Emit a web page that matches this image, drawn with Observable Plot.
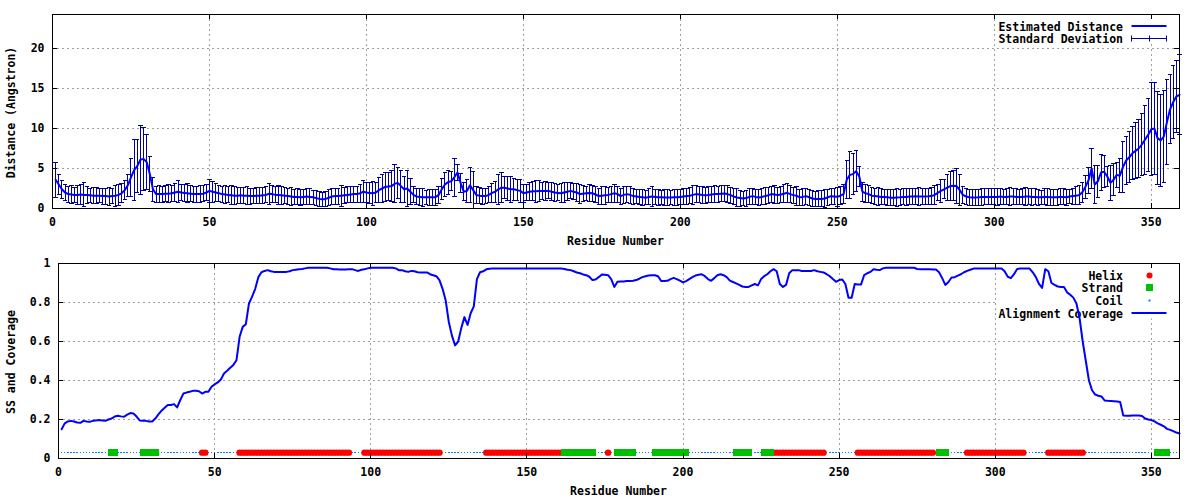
<!DOCTYPE html>
<html>
<head>
<meta charset="utf-8">
<script src="https://cdn.jsdelivr.net/npm/d3@7"></script>
<script src="https://cdn.jsdelivr.net/npm/@observablehq/plot@0.6"></script>
<style>
  html, body { margin: 0; padding: 0; background: #ffffff; }
  #chart svg { display: block; }
</style>
</head>
<body>
<div id="chart"></div>
<script>
// ---------------- DATA ----------------
const firstResidue = 1;

// Estimated distance (Angstrom) per residue
const distanceMean = [
3.6,3.0,2.4,2.0,1.8,1.75,1.7,1.7,1.75,1.7,
1.7,1.65,1.6,1.6,1.6,1.55,1.55,1.5,1.55,1.6,
1.7,1.9,2.3,2.9,3.9,4.8,5.3,6.1,6.2,5.8,
4.3,2.4,1.8,1.8,1.8,1.85,1.85,1.9,2.0,2.1,
2.0,1.95,1.9,1.85,1.8,1.8,1.8,1.85,2.0,2.2,
2.1,2.0,1.9,1.8,1.75,1.7,1.65,1.6,1.6,1.65,
1.6,1.6,1.55,1.55,1.6,1.6,1.65,1.7,1.85,1.8,
1.7,1.7,1.65,1.6,1.55,1.5,1.45,1.45,1.4,1.45,
1.5,1.45,1.4,1.3,1.2,1.15,1.2,1.35,1.5,1.55,
1.55,1.6,1.65,1.7,1.75,1.8,1.8,1.9,2.1,2.0,
1.95,1.9,2.0,2.3,2.5,2.7,2.75,2.8,3.1,3.2,
2.8,2.4,2.5,2.1,1.7,1.5,1.45,1.4,1.4,1.4,
1.4,1.4,1.7,2.4,3.0,3.3,3.4,3.9,4.5,3.2,
2.1,2.2,2.9,2.3,1.7,1.6,1.55,1.55,1.7,1.95,
2.1,2.4,2.6,2.6,2.5,2.4,2.4,2.3,2.2,1.9,
2.0,2.1,2.15,2.15,2.2,2.2,2.2,2.2,2.1,2.0,
1.95,1.9,2.0,2.1,2.2,2.1,2.0,1.8,1.85,1.9,
1.95,1.9,1.75,1.55,1.6,1.65,1.7,1.8,1.9,1.8,
1.55,1.7,1.8,1.7,1.55,1.5,1.45,1.4,1.35,1.45,
1.5,1.45,1.4,1.4,1.38,1.38,1.38,1.4,1.4,1.45,
1.5,1.55,1.6,1.7,1.8,1.75,1.7,1.67,1.7,1.75,
1.8,1.8,1.85,1.88,1.8,1.67,1.5,1.38,1.3,1.25,
1.3,1.45,1.55,1.45,1.38,1.45,1.55,1.65,1.8,1.75,
1.67,1.75,1.85,1.96,1.8,1.67,1.6,1.4,1.45,1.55,
1.4,1.25,1.2,1.2,1.2,1.25,1.4,1.54,1.5,1.46,
1.6,1.8,3.6,4.2,4.3,4.67,4.0,2.1,1.9,1.8,
1.6,1.55,1.5,1.45,1.45,1.4,1.35,1.35,1.38,1.4,
1.45,1.45,1.5,1.5,1.54,1.5,1.5,1.5,1.52,1.55,
1.7,1.96,2.2,2.4,2.6,2.8,2.85,2.8,2.3,1.7,
1.5,1.4,1.38,1.38,1.4,1.45,1.45,1.45,1.45,1.45,
1.45,1.5,1.45,1.45,1.5,1.5,1.45,1.45,1.45,1.5,
1.5,1.45,1.45,1.4,1.4,1.45,1.45,1.4,1.4,1.4,
1.45,1.45,1.4,1.5,1.55,1.6,1.67,2.0,2.7,3.5,
5.0,3.0,3.4,4.5,4.6,4.0,3.2,3.6,4.2,4.1,
5.2,6.0,6.4,6.9,7.2,7.5,8.0,8.6,9.2,9.9,
10.0,8.8,8.5,9.0,10.8,12.4,13.3,14.0,14.2
];

// Standard deviation per residue
const distanceSD = [
2.2,1.2,1.1,1.0,1.0,1.1,0.9,1.2,1.3,1.5,
1.1,0.9,1.0,1.0,0.9,1.0,1.0,1.1,0.9,1.3,
1.3,1.2,1.2,1.4,2.35,3.8,3.3,4.3,3.9,3.45,
2.2,1.5,1.0,1.1,1.0,1.0,1.1,1.0,1.1,1.4,
1.0,1.1,1.2,1.0,1.0,1.0,1.1,1.0,1.0,1.4,
1.3,1.1,1.0,1.0,1.1,1.0,1.2,1.1,1.0,1.0,
1.0,1.1,1.0,0.9,1.0,1.0,1.0,1.0,1.3,1.1,
1.0,1.2,1.1,1.0,1.0,1.1,0.9,1.0,1.0,0.9,
1.0,1.0,0.9,0.9,0.9,0.9,0.9,1.0,1.0,1.0,
1.0,1.3,1.0,1.0,1.0,1.0,1.0,1.1,1.4,1.2,
1.3,1.5,1.2,1.6,1.7,1.8,1.8,1.9,2.4,1.9,
2.0,1.6,2.2,1.6,1.0,1.0,1.1,1.1,0.9,1.0,
1.0,1.0,1.1,1.3,1.5,1.5,1.2,2.35,1.0,1.2,
1.1,1.4,2.2,2.3,1.1,1.0,1.0,0.9,1.0,1.2,
1.3,1.9,1.9,1.4,1.5,1.6,1.4,1.3,1.4,1.1,
1.0,1.1,1.2,1.4,1.3,1.1,1.2,1.0,1.1,1.1,
1.0,1.2,1.3,1.1,1.0,1.0,1.1,1.2,1.0,0.9,
1.1,1.0,1.0,1.0,1.1,1.1,0.9,1.0,1.1,1.0,
1.0,1.1,1.0,1.1,1.0,0.9,0.9,1.0,0.9,1.0,
1.2,0.9,1.0,0.9,1.0,1.0,0.9,1.0,1.0,0.9,
1.0,1.0,1.0,1.2,1.1,1.0,1.1,1.0,1.0,1.0,
1.1,1.0,1.0,1.0,1.1,1.0,1.0,1.1,1.0,0.9,
1.0,1.0,1.0,0.9,1.0,1.0,1.1,1.0,1.0,1.1,
1.0,1.0,1.1,1.2,1.1,1.0,1.2,1.0,1.1,1.0,
1.0,1.0,0.9,1.0,1.0,1.1,1.0,1.0,1.0,1.2,
1.1,1.2,2.4,2.9,2.6,2.55,1.3,1.2,1.1,1.1,
1.0,1.0,1.1,1.0,0.9,1.0,1.0,1.0,1.1,1.0,
1.0,1.1,1.0,1.0,1.0,1.1,1.0,1.0,1.0,1.1,
1.2,1.0,1.4,1.2,1.6,1.8,1.9,2.2,1.9,1.1,
1.0,1.0,1.0,1.0,1.0,1.1,1.0,1.0,1.0,1.0,
1.1,1.0,0.9,1.0,1.1,1.0,1.0,0.9,1.0,1.1,
1.0,1.1,1.0,1.0,0.9,1.0,1.1,1.0,1.0,1.0,
1.0,1.0,1.0,0.9,1.0,1.1,1.2,1.2,1.4,1.6,
2.5,2.4,2.0,2.3,2.0,1.3,2.2,2.0,1.6,2.1,
3.2,3.0,3.2,3.3,3.5,3.6,3.9,4.3,4.6,5.8,
5.8,5.8,5.7,5.8,5.3,4.3,4.6,4.5,5.0
];

// Alignment coverage per residue
const coverage = [
0.15,0.18,0.19,0.193,0.19,0.185,0.183,0.193,0.19,0.188,
0.193,0.195,0.197,0.195,0.193,0.2,0.205,0.215,0.219,0.216,
0.214,0.225,0.233,0.231,0.215,0.195,0.193,0.193,0.19,0.19,
0.205,0.226,0.245,0.26,0.274,0.274,0.279,0.262,0.3,0.333,
0.338,0.342,0.347,0.347,0.345,0.333,0.342,0.342,0.368,0.38,
0.39,0.405,0.436,0.45,0.465,0.48,0.504,0.624,0.675,0.689,
0.795,0.83,0.87,0.93,0.955,0.962,0.966,0.96,0.957,0.957,
0.957,0.957,0.957,0.96,0.966,0.968,0.97,0.972,0.975,0.978,
0.978,0.978,0.978,0.978,0.978,0.978,0.975,0.971,0.97,0.969,
0.969,0.969,0.97,0.971,0.966,0.962,0.968,0.97,0.975,0.978,
0.978,0.978,0.978,0.978,0.978,0.978,0.978,0.975,0.966,0.966,
0.96,0.957,0.962,0.96,0.955,0.954,0.954,0.954,0.945,0.94,
0.935,0.915,0.87,0.81,0.7,0.63,0.58,0.6,0.67,0.725,
0.685,0.745,0.78,0.92,0.955,0.96,0.97,0.973,0.974,0.974,
0.974,0.974,0.974,0.974,0.974,0.974,0.974,0.974,0.974,0.974,
0.974,0.974,0.974,0.974,0.974,0.974,0.974,0.974,0.974,0.974,
0.974,0.972,0.968,0.966,0.96,0.954,0.95,0.944,0.94,0.932,
0.915,0.918,0.93,0.944,0.942,0.94,0.92,0.88,0.906,0.908,
0.908,0.91,0.91,0.912,0.915,0.922,0.93,0.935,0.938,0.94,
0.94,0.935,0.91,0.91,0.911,0.92,0.926,0.92,0.912,0.903,
0.91,0.92,0.93,0.938,0.942,0.945,0.935,0.92,0.911,0.925,
0.94,0.945,0.94,0.93,0.912,0.905,0.898,0.89,0.882,0.88,
0.88,0.888,0.895,0.888,0.92,0.935,0.945,0.96,0.971,0.96,
0.895,0.88,0.89,0.95,0.966,0.966,0.966,0.962,0.962,0.962,
0.962,0.966,0.96,0.957,0.954,0.945,0.935,0.92,0.906,0.915,
0.918,0.895,0.824,0.824,0.895,0.892,0.892,0.94,0.95,0.957,
0.971,0.968,0.966,0.975,0.978,0.978,0.978,0.978,0.978,0.978,
0.978,0.978,0.978,0.978,0.972,0.971,0.971,0.97,0.97,0.969,
0.969,0.955,0.925,0.89,0.905,0.928,0.93,0.938,0.945,0.955,
0.962,0.968,0.974,0.974,0.974,0.974,0.974,0.974,0.974,0.974,
0.974,0.974,0.96,0.932,0.925,0.945,0.972,0.974,0.974,0.974,
0.974,0.955,0.93,0.895,0.875,0.971,0.96,0.9,0.89,0.882,
0.88,0.88,0.852,0.84,0.825,0.795,0.72,0.6,0.5,0.4,
0.35,0.328,0.322,0.318,0.298,0.296,0.295,0.294,0.292,0.29,
0.22,0.219,0.219,0.22,0.221,0.22,0.218,0.205,0.2,0.197,
0.19,0.18,0.173,0.165,0.152,0.147,0.14,0.133,0.128
];

// Secondary structure segments (first residue, last residue)
const helixSegments  = [[46,47],[58,93],[98,122],[137,161],[176,176],[229,245],[256,280],[291,309],[317,328]];
const strandSegments = [[17,18],[27,31],[162,171],[179,184],[191,201],[217,221],[226,228],[282,284],[352,355]];
const ssLevel = 0.03;

// Axis ticks and labels
const xTicks = [0, 50, 100, 150, 200, 250, 300, 350];
const xDomain = [0, 359];
const distTicks = [0, 5, 10, 15, 20];
const distDomain = [0, 24.25];
const covTicks = [0, 0.2, 0.4, 0.6, 0.8, 1];
const covDomain = [0, 1];

const topKey = [
  {label: "Estimated Distance", kind: "line", color: "#0000ff"},
  {label: "Standard Deviation", kind: "errorbar", color: "#0000a0"}
];
const bottomKey = [
  {label: "Helix", kind: "circle", color: "#ff0000"},
  {label: "Strand", kind: "square", color: "#00c000"},
  {label: "Coil", kind: "dot", color: "#0080ff"},
  {label: "Alignment Coverage", kind: "line", color: "#0000ff"}
];

// ---------------- BUILD ----------------
const FONT = "'DejaVu Sans Mono', 'Liberation Mono', monospace";
const GRID = "#a0a0a0";
const DASH = "2,3";
const TICK = 5;
const BAR = "#0000a0";

const distRows = distanceMean.map((m, i) => ({r: i + firstResidue, mean: m, lo: m - distanceSD[i], hi: m + distanceSD[i]}));
const covRows = coverage.map((c, i) => ({r: i + firstResidue, c}));
const inSeg = (segs, r) => segs.some(([a, b]) => r >= a && r <= b);
const ssRows = coverage.map((c, i) => {
  const r = i + firstResidue;
  return {r, ss: inSeg(helixSegments, r) ? "H" : inSeg(strandSegments, r) ? "E" : "C"};
});

const capSymbol = {draw(ctx, size) { const w = Math.sqrt(size / Math.PI); ctx.moveTo(-w, 0); ctx.lineTo(w, 0); }};

function frameBox(dim) {
  return {L: dim.marginLeft, R: dim.width - dim.marginRight, T: dim.marginTop, B: dim.height - dim.marginBottom};
}

function keyMark(items) {
  return (index, scales, values, dim) => {
    const {R, T} = frameBox(dim);
    const g = d3.create("svg:g");
    g.append("rect").attr("x", R - 183).attr("y", T + 0.5).attr("width", 182.5).attr("height", items.length * 13 + 3).attr("fill", "white");
    const x1 = Math.round(R - 48.5) + 0.5, x2 = Math.round(R - 13.5) + 0.5, xc = Math.round((x1 + x2) / 2) + 0.5;
    items.forEach((it, i) => {
      const y = Math.round(T + 11.5 + i * 12.9) + 0.5;
      g.append("text").attr("x", R - 56).attr("y", y).attr("dy", "0.35em").attr("text-anchor", "end").attr("fill", "black").text(it.label);
      if (it.kind === "line") {
        g.append("line").attr("x1", x1).attr("x2", x2).attr("y1", y - 0.5).attr("y2", y - 0.5).attr("stroke", it.color).attr("stroke-width", 2);
      } else if (it.kind === "errorbar") {
        g.append("line").attr("x1", x1).attr("x2", x2).attr("y1", y).attr("y2", y).attr("stroke", it.color).attr("stroke-width", 1);
        for (const x of [x1, xc, x2]) g.append("line").attr("x1", x).attr("x2", x).attr("y1", y - 3).attr("y2", y + 3).attr("stroke", it.color);
      } else if (it.kind === "circle") {
        g.append("circle").attr("cx", xc).attr("cy", y).attr("r", 3).attr("fill", it.color);
      } else if (it.kind === "square") {
        g.append("rect").attr("x", xc - 3.5).attr("y", y - 3.5).attr("width", 7).attr("height", 7).attr("fill", it.color);
      } else {
        g.append("rect").attr("x", xc - 1).attr("y", y - 1).attr("width", 2).attr("height", 2).attr("fill", it.color);
      }
    });
    return g.node();
  };
}

function chromeMark(xt, yt, yLabel, xLabel) {
  return (index, scales, values, dim) => {
    const {L, R, T, B} = frameBox(dim);
    const g = d3.create("svg:g");
    const t = g.append("g").attr("stroke", "black").attr("stroke-width", 1).attr("shape-rendering", "crispEdges");
    for (const v of xt) {
      const x = Math.round(scales.x(v)) + 0.5;
      t.append("line").attr("x1", x).attr("x2", x).attr("y1", B).attr("y2", B - TICK);
      t.append("line").attr("x1", x).attr("x2", x).attr("y1", T).attr("y2", T + TICK);
    }
    for (const v of yt) {
      const y = Math.round(scales.y(v)) + 0.5;
      t.append("line").attr("x1", L).attr("x2", L + TICK).attr("y1", y).attr("y2", y);
      t.append("line").attr("x1", R).attr("x2", R - TICK).attr("y1", y).attr("y2", y);
    }
    g.append("text").attr("transform", `translate(11,${(T + B) / 2 + 1.5}) rotate(-90)`)
      .attr("text-anchor", "middle").attr("dy", "0.35em").attr("fill", "black").text(yLabel);
    g.append("text").attr("x", (L + R) / 2).attr("y", 240.5).attr("text-anchor", "middle")
      .attr("dy", "0.35em").attr("fill", "black").text(xLabel);
    return g.node();
  };
}

const baseStyle = {fontFamily: FONT, fontSize: "11.5px", fontWeight: "bold", background: "white", color: "black"};

const distancePlot = Plot.plot({
  width: 1200, height: 250,
  marginLeft: 52, marginRight: 21, marginTop: 14, marginBottom: 42,
  style: baseStyle,
  x: {domain: xDomain, ticks: xTicks, tickSize: 0, tickPadding: 9, label: null},
  y: {domain: distDomain, ticks: distTicks, tickSize: 0, tickPadding: 8, label: null},
  marks: [
    Plot.ruleY(distTicks.filter(d => d > 0), {y: d => d, stroke: GRID, strokeDasharray: DASH, shapeRendering: "crispEdges"}),
    Plot.ruleX(xTicks.filter(d => d > 0), {x: d => d, stroke: GRID, strokeDasharray: DASH, shapeRendering: "crispEdges"}),
    keyMark(topKey),
    Plot.ruleX(distRows, {x: "r", y1: "lo", y2: "hi", stroke: BAR, strokeWidth: 1, shapeRendering: "crispEdges"}),
    Plot.dot(distRows, {x: "r", y: "hi", symbol: capSymbol, r: 2.2, stroke: BAR, fill: "none", strokeWidth: 1, shapeRendering: "crispEdges"}),
    Plot.dot(distRows, {x: "r", y: "lo", symbol: capSymbol, r: 2.2, stroke: BAR, fill: "none", strokeWidth: 1, shapeRendering: "crispEdges"}),
    Plot.line(distRows, {x: "r", y: "mean", stroke: "#0000ff", strokeWidth: 2}),
    Plot.frame({stroke: "black", shapeRendering: "crispEdges"}),
    chromeMark(xTicks, distTicks, "Distance (Angstron)", "Residue Number")
  ]
});

const coveragePlot = Plot.plot({
  width: 1200, height: 250,
  marginLeft: 58, marginRight: 21, marginTop: 13, marginBottom: 42,
  style: baseStyle,
  x: {domain: xDomain, ticks: xTicks, tickSize: 0, tickPadding: 9, label: null},
  y: {domain: covDomain, ticks: covTicks, tickSize: 0, tickPadding: 8, tickFormat: d => String(d), label: null},
  marks: [
    Plot.ruleY(covTicks.filter(d => d > 0 && d < 1), {y: d => d, stroke: GRID, strokeDasharray: DASH, shapeRendering: "crispEdges"}),
    Plot.ruleX(xTicks.filter(d => d > 0), {x: d => d, stroke: GRID, strokeDasharray: DASH, shapeRendering: "crispEdges"}),
    keyMark(bottomKey),
    Plot.dot(ssRows.filter(d => d.ss === "C"), {x: "r", y: () => ssLevel, symbol: "square", r: 0.85, fill: "#0080ff", stroke: "none", shapeRendering: "crispEdges"}),
    Plot.dot(ssRows.filter(d => d.ss === "H"), {x: "r", y: () => ssLevel, r: 3.2, fill: "#ff0000", stroke: "none"}),
    Plot.dot(ssRows.filter(d => d.ss === "E"), {x: "r", y: () => ssLevel, symbol: "square", r: 3.7, fill: "#00c000", stroke: "none", shapeRendering: "crispEdges"}),
    Plot.line(covRows, {x: "r", y: "c", stroke: "#0000ff", strokeWidth: 2}),
    Plot.frame({stroke: "black", shapeRendering: "crispEdges"}),
    chromeMark(xTicks, covTicks, "SS and Coverage", "Residue Number")
  ]
});

document.getElementById("chart").append(distancePlot, coveragePlot);
</script>
</body>
</html>
